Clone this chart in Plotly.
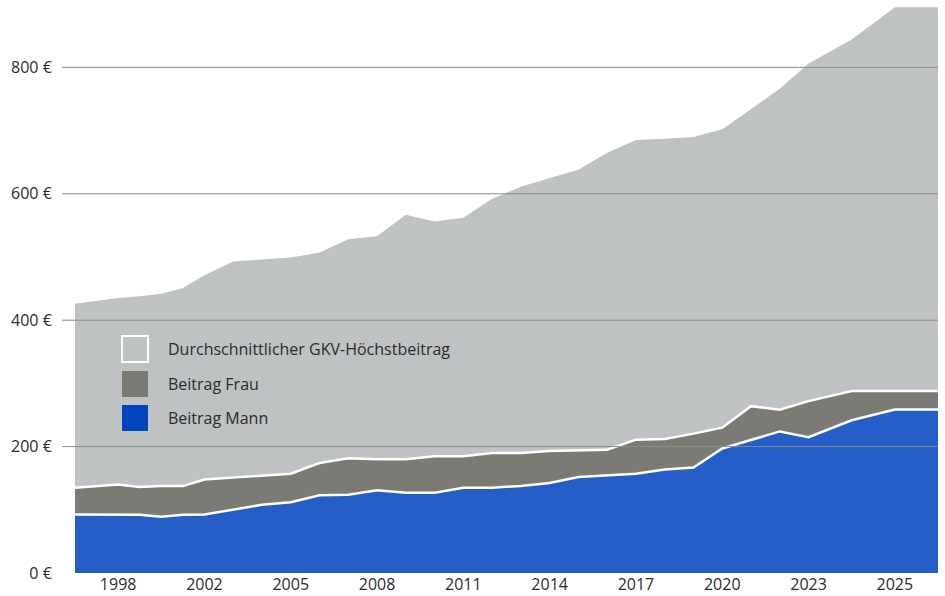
import numpy as np
import plotly.graph_objects as go

# ---- data ----
years = list(range(1997, 2027))
hoechstbeitrag = [426, 435, 438, 442, 451, 471, 493, 496, 499, 507, 528, 533, 567, 556, 562,
                  592, 611, 625, 638, 665, 685, 687, 690, 702, 734, 766, 806, 844, 895, 895]
beitrag_frau = [135, 140, 136, 137.5, 137.5, 148, 151, 153.5, 157, 174, 181.5, 180, 180, 184.6, 184.6,
                190, 190, 193, 194, 195, 211, 212, 220.5, 230, 264, 258.5, 272, 288, 288, 288]
beitrag_mann = [92.4, 92.4, 92, 89, 92, 92.4, 100, 108, 112, 123, 124, 131, 127, 127, 135,
                135, 137.7, 142.4, 152, 154.6, 157, 163.6, 166.8, 197, 211, 224, 215, 241.6, 258.5, 258.5]
tick_years = [1998, 2002, 2005, 2008, 2011, 2014, 2017, 2020, 2023, 2025]
y_ticks = [0, 200, 400, 600, 800]
y_tick_labels = ["0 €", "200 €", "400 €", "600 €", "800 €"]
grid_values = [200, 400, 600, 800]
names = ["Durchschnittlicher GKV-Höchstbeitrag", "Beitrag Frau", "Beitrag Mann"]

# ---- styles ----
C_TOTAL = "#bfc2c3"
C_FRAU = "#7b7a75"
C_MANN = "#255ec6"
C_MANN_LEG = "#0044bd"
C_GRID = "#8c8c8a"
FONT = "Open Sans"
TEXT = "#2b2b2b"

# Each labelled year occupies one equal band on the axis; the years in between
# are spread evenly inside the bands, years outside extend by half a band.
band_idx = list(range(len(tick_years)))


def year_pos(y):
    if y < tick_years[0]:
        return -0.5 * (tick_years[0] - y)
    if y > tick_years[-1]:
        return band_idx[-1] + 0.5 * (y - tick_years[-1])
    return float(np.interp(y, tick_years, band_idx))


xpos = [year_pos(y) for y in years]

fig = go.Figure()
fig.add_trace(go.Scatter(x=xpos, y=hoechstbeitrag, mode="lines", fill="tozeroy",
                         fillcolor=C_TOTAL, line=dict(width=0, color=C_TOTAL),
                         name=names[0], hoverinfo="y"))
fig.add_trace(go.Scatter(x=xpos, y=beitrag_frau, mode="lines", fill="tozeroy",
                         fillcolor=C_FRAU, line=dict(width=2.5, color="white"),
                         name=names[1], hoverinfo="y"))
fig.add_trace(go.Scatter(x=xpos, y=beitrag_mann, mode="lines", fill="tozeroy",
                         fillcolor=C_MANN, line=dict(width=2.5, color="white"),
                         name=names[2], hoverinfo="y"))

W, H = 945, 596
ML, MR, MT, MB = 75, 7, 0, 23
PW, PH = W - ML - MR, H - MT - MB


def px_x(p):
    return (p - ML) / PW


def px_y(p):
    return (H - MB - p) / PH


# gridlines above the areas, extending left like tick marks
for v in grid_values:
    fig.add_shape(type="line", xref="paper", yref="y", x0=px_x(62), x1=1, y0=v, y1=v,
                  line=dict(color=C_GRID, width=1), layer="above")

# custom legend
leg_cols = [C_TOTAL, C_FRAU, C_MANN_LEG]
leg_border = ["white", C_FRAU, C_MANN_LEG]
leg_top = [336, 371, 405]
for name, col, bc, top in zip(names, leg_cols, leg_border, leg_top):
    fig.add_shape(type="rect", xref="paper", yref="paper",
                  x0=px_x(122), x1=px_x(148), y0=px_y(top + 26), y1=px_y(top),
                  fillcolor=col, line=dict(color=bc, width=2 if bc == "white" else 0),
                  layer="above")
    fig.add_annotation(xref="paper", yref="paper", x=px_x(166), y=px_y(top + 13),
                       text=name, showarrow=False, xanchor="left", yanchor="middle",
                       font=dict(family=FONT, size=16, color=TEXT))

fig.update_layout(
    width=W, height=H,
    margin=dict(l=ML, r=MR, t=MT, b=MB),
    paper_bgcolor="white", plot_bgcolor="white",
    showlegend=False,
    font=dict(family=FONT, size=16, color=TEXT),
)
fig.update_xaxes(range=[-0.5, band_idx[-1] + 0.5], tickvals=band_idx,
                 ticktext=[str(y) for y in tick_years], showgrid=False, zeroline=False,
                 showline=False, ticks="", tickfont=dict(size=16, color=TEXT, family=FONT))
fig.update_yaxes(range=[0, 906.6], tickvals=y_ticks, ticktext=y_tick_labels, showgrid=False,
                 zeroline=False, showline=False, ticks="outside", ticklen=13,
                 tickcolor="rgba(0,0,0,0)", ticklabelstandoff=6,
                 tickfont=dict(size=16, color=TEXT, family=FONT))

fig.write_html("out.html")
